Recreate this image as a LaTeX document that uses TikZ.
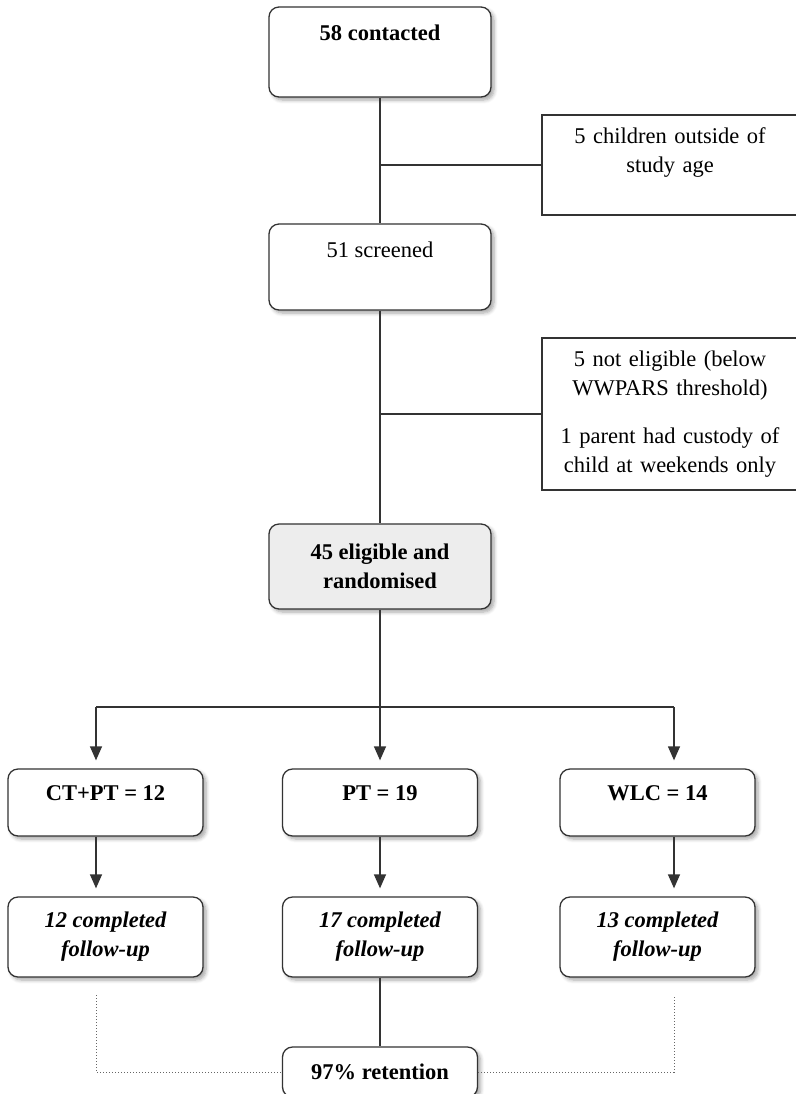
\documentclass[tikz,border=0pt]{standalone}
\usepackage{fontspec}
\setmainfont{Liberation Serif}
\usetikzlibrary{positioning, arrows.meta, shadows.blur}

\newcommand{\flowfont}{\fontsize{11.25}{14.5}\selectfont}

\begin{document}
\begin{tikzpicture}[x=0.5pt, y=-0.5pt, >={Triangle[length=7pt, width=6pt]}, line width=0.65pt, draw=black!80,
    every node/.style={font=\flowfont},
    bold/.style={font=\flowfont\bfseries},
    boldit/.style={font=\flowfont\bfseries\itshape},
    stage/.style={draw=black!80, rounded corners=5pt, fill=white, minimum width=111pt, align=center, inner sep=0pt,
        blur shadow={shadow xshift=1.5pt, shadow yshift=-1.5pt, shadow blur steps=6, shadow opacity=35}},
    arm/.style={stage, minimum width=97.5pt},
    excl/.style={draw=black!80, minimum width=128pt, text width=124pt, align=center, inner sep=0pt},
    dotline/.style={densely dotted, line width=0.5pt, draw=black!60}]
    \useasboundingbox (0,0) rectangle (796,1094);

    % Screening column
    \node[stage, bold, text height=16.5pt, text depth=28.5pt] (contacted) at (380,52) {58 contacted};
    \node[stage, text height=16.5pt, text depth=26.5pt] (screened) at (380,267) {51 screened};
    \node[stage, bold, fill=black!7, minimum height=42.5pt] (rand) at (380,566.5) {45 eligible and\\ randomised};

    % Exclusions
    \node[excl, text height=14pt, text depth=36pt] (agecut) at (670,165) {5 children outside of\\ study age};
    \node[excl, minimum height=76pt] (noteligible) at (670,414)
        {5 not eligible (below\\ WWPARS threshold)\\[9.5pt] 1 parent had custody of\\ child at weekends only};

    % Arms
    \node[arm, bold, text height=15.5pt, text depth=18pt] (ctpt) at (105.5,802.5) {CT+PT = 12};
    \node[arm, bold, text height=15.5pt, text depth=18pt] (ptarm) at (380,802.5) {PT = 19};
    \node[arm, bold, text height=15.5pt, text depth=18pt] (wlc) at (657.5,802.5) {WLC = 14};

    % Follow-up
    \node[arm, boldit, minimum height=40pt] (ctfollow) at (105.5,937) {12 completed\\ follow-up};
    \node[arm, boldit, minimum height=40pt] (ptfollow) at (380,937) {17 completed\\ follow-up};
    \node[arm, boldit, minimum height=40pt] (wlcfollow) at (657.5,937) {13 completed\\ follow-up};
    \node[arm, bold, minimum height=25pt] (retention) at (380,1072) {97\% retention};

    % Branch points
    \coordinate (splitL) at (96,707);
    \coordinate (splitR) at (674,707);
    \coordinate (dotL) at (96,995);
    \coordinate (dotR) at (674,995);

    % Connections down the column
    \draw (contacted) -- (screened);
    \draw (agecut.west) -- (agecut.west -| contacted);
    \draw (screened) -- (rand);
    \draw (noteligible.west) -- (noteligible.west -| screened);

    % Randomisation
    \draw[->, shorten >=4pt] (rand) -- (ptarm);
    \draw (splitL) -- (splitR);
    \draw[->, shorten >=4pt] (splitL) -- (splitL |- ctpt.north);
    \draw[->, shorten >=4pt] (splitR) -- (splitR |- wlc.north);

    % Arms to follow-up
    \draw[->, shorten >=4pt] (ctpt.south -| splitL) -- (ctfollow.north -| splitL);
    \draw[->, shorten >=4pt] (ptarm) -- (ptfollow);
    \draw[->, shorten >=4pt] (wlc.south -| splitR) -- (wlcfollow.north -| splitR);

    % Retention
    \draw (ptfollow) -- (retention);
    \draw[dotline] (dotL) |- (retention.west);
    \draw[dotline] (retention.east) -| (dotR);
\end{tikzpicture}
\end{document}
